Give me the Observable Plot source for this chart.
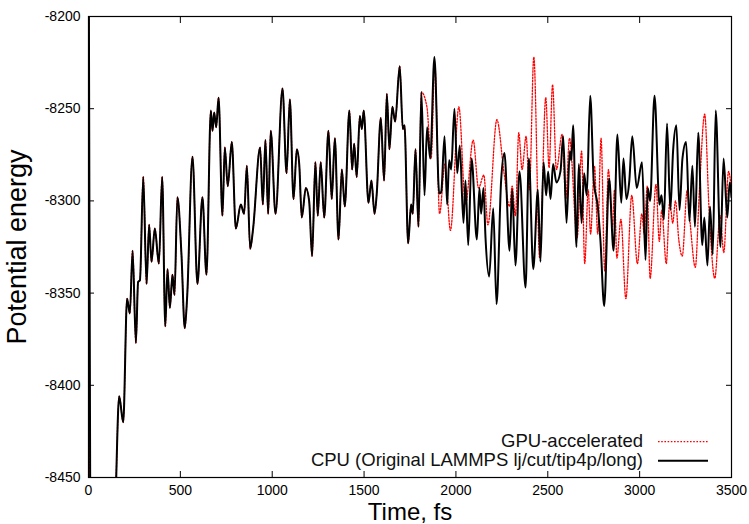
<!DOCTYPE html>
<html><head><meta charset="utf-8">
<script src="https://cdn.jsdelivr.net/npm/d3@7"></script>
<script src="https://cdn.jsdelivr.net/npm/@observablehq/plot@0.6"></script>
<style>
html,body{margin:0;padding:0;background:#fff;}
#wrap{position:relative;width:749px;height:524px;font-family:"Liberation Sans",Arial,sans-serif;}
g[aria-label="y-axis label"]{font-size:27px;}
g[aria-label="x-axis label"]{font-size:24px;}
.lg{position:absolute;right:106px;font-size:18.5px;line-height:20px;color:#111;white-space:nowrap;}
#samples{position:absolute;left:0;top:0;pointer-events:none;}
</style></head>
<body><div id="wrap"></div>
<script>
// Shared trajectory (both runs identical until ~1812 fs)
const commonT = [0,12,80,145,167,189,210,225,240,258,270,280,298,316,330,343,361,383,401,418,430,443,457,468,484,506,524,537,566,593,620,642,666,675,684,695,708,729,742,758,780,802,829,847,862,880,896,934,949,963,978,992,1018,1056,1078,1096,1116,1134,1147,1161,1183,1201,1217,1235,1248,1264,1283,1306,1324,1341,1361,1379,1395,1420,1435,1446,1460,1477,1488,1498,1524,1540,1557,1569,1591,1609,1624,1638,1654,1669,1694,1711,1720,1740,1756,1765,1780,1796,1812];
const commonE = [-8120,-8560,-8600,-8470,-8406,-8420,-8353,-8361,-8327,-8377,-8344,-8343,-8287,-8345,-8313,-8333,-8315,-8334,-8287,-8368,-8337,-8358,-8340,-8351,-8298,-8329,-8369,-8352,-8276,-8345,-8298,-8340,-8251,-8262,-8252,-8260,-8244,-8308,-8271,-8292,-8268,-8315,-8302,-8307,-8281,-8326,-8315,-8271,-8302,-8267,-8307,-8262,-8307,-8239,-8285,-8245,-8299,-8272,-8280,-8309,-8293,-8300,-8330,-8279,-8308,-8279,-8309,-8262,-8299,-8266,-8321,-8283,-8303,-8251,-8283,-8269,-8287,-8254,-8261,-8251,-8301,-8289,-8307,-8296,-8255,-8289,-8242,-8272,-8249,-8257,-8227,-8261,-8259,-8323,-8302,-8307,-8272,-8314,-8241];

// CPU (original LAMMPS) after divergence
const cpuT = [1829,1843,1860,1883,1909,1920,1938,1952,1963,1974,1992,2007,2021,2041,2052,2067,2085,2114,2128,2137,2150,2161,2181,2203,2221,2246,2264,2292,2306,2324,2346,2379,2397,2421,2446,2460,2477,2491,2502,2515,2529,2547,2569,2584,2602,2620,2628,2638,2656,2669,2684,2698,2712,2731,2750,2772,2787,2807,2834,2858,2879,2900,2912,2928,2943,2960,2984,3013,3032,3044,3057,3081,3108,3119,3132,3149,3167,3182,3200,3217,3233,3253,3271,3287,3301,3319,3341,3352,3369,3383,3398,3414,3440,3457,3477,3490,3500];
const cpuE = [-8297,-8260,-8277,-8222,-8296,-8295,-8265,-8302,-8278,-8283,-8250,-8285,-8270,-8312,-8289,-8324,-8277,-8321,-8293,-8307,-8293,-8320,-8341,-8304,-8356,-8289,-8274,-8327,-8294,-8335,-8284,-8347,-8277,-8337,-8294,-8333,-8279,-8297,-8284,-8299,-8280,-8290,-8284,-8265,-8312,-8273,-8278,-8259,-8325,-8280,-8312,-8285,-8297,-8243,-8289,-8303,-8322,-8357,-8288,-8327,-8264,-8301,-8277,-8299,-8290,-8265,-8293,-8279,-8332,-8293,-8300,-8243,-8302,-8297,-8310,-8258,-8305,-8273,-8259,-8305,-8277,-8268,-8311,-8281,-8314,-8263,-8324,-8309,-8335,-8303,-8329,-8251,-8325,-8277,-8309,-8290,-8298];

// GPU-accelerated after divergence
const gpuT = [1842,1865,1885,1911,1940,1970,2016,2052,2094,2123,2152,2174,2223,2262,2292,2306,2324,2342,2360,2382,2400,2424,2456,2489,2507,2526,2547,2578,2598,2618,2660,2684,2701,2720,2733,2754,2772,2790,2810,2830,2852,2863,2876,2898,2925,2957,2988,3012,3025,3041,3057,3089,3107,3120,3145,3164,3180,3195,3213,3232,3259,3275,3303,3325,3354,3378,3409,3438,3458,3484,3500];
const gpuE = [-8249,-8277,-8226,-8307,-8280,-8316,-8249,-8302,-8267,-8293,-8286,-8313,-8256,-8285,-8303,-8292,-8308,-8263,-8283,-8265,-8294,-8222,-8331,-8244,-8282,-8237,-8283,-8264,-8299,-8266,-8320,-8273,-8334,-8294,-8318,-8281,-8318,-8266,-8338,-8283,-8314,-8294,-8331,-8310,-8353,-8297,-8334,-8307,-8318,-8292,-8342,-8291,-8322,-8305,-8334,-8300,-8312,-8300,-8321,-8330,-8294,-8312,-8336,-8295,-8253,-8305,-8342,-8308,-8328,-8284,-8295];

const xTicks = [0,500,1000,1500,2000,2500,3000,3500];
const yTicks = [-8450,-8400,-8350,-8300,-8250,-8200];
const seriesNames = ["GPU-accelerated", "CPU (Original LAMMPS lj/cut/tip4p/long)"];

const common = commonT.map((t,i)=>({t, e: commonE[i]}));
const cpu = common.concat(cpuT.map((t,i)=>({t, e: cpuE[i]})));
const gpu = common.concat(gpuT.map((t,i)=>({t, e: gpuE[i]})));

const chart = Plot.plot({
  width: 749, height: 524,
  marginLeft: 88, marginRight: 18, marginTop: 16, marginBottom: 47,
  style: {fontFamily: '"Liberation Sans", Arial, sans-serif', fontSize: "14px", background: "#fff", color: "#000"},
  x: {domain: [0, 3500]},
  y: {domain: [-8450, -8200]},
  marks: [
    Plot.line(gpu, {x: "t", y: "e", curve: "monotone-x", stroke: "#ff0000", strokeWidth: 1.3, strokeDasharray: "1.6,1.6", clip: true}),
    Plot.line(cpu, {x: "t", y: "e", curve: "monotone-x", stroke: "#000", strokeWidth: 2, clip: true}),
    Plot.frame({stroke: "#000", strokeWidth: 1.2}),
    Plot.axisX({anchor: "bottom", ticks: xTicks, tickSize: -6, tickPadding: 14, tickFormat: d => String(d), fontSize: 14, label: "Time, fs", labelAnchor: "center", labelOffset: 42, labelArrow: "none"}),
    Plot.axisX({anchor: "top", ticks: xTicks, tickSize: -6, tickFormat: () => "", label: null}),
    Plot.axisY({anchor: "left", ticks: yTicks, tickSize: -6, tickPadding: 14, tickFormat: d => String(d), fontSize: 14, label: "Potential energy", labelAnchor: "center", labelOffset: 82, labelArrow: "none"}),
    Plot.axisY({anchor: "right", ticks: yTicks, tickSize: -6, tickFormat: () => "", label: null})
  ]
});
const wrap = document.getElementById("wrap");
wrap.appendChild(chart);

// legend
const l1 = document.createElement("div"); l1.className = "lg"; l1.style.top = "431px"; l1.textContent = seriesNames[0];
const l2 = document.createElement("div"); l2.className = "lg"; l2.style.top = "450px"; l2.textContent = seriesNames[1];
wrap.appendChild(l1); wrap.appendChild(l2);
const ns = "http://www.w3.org/2000/svg";
const s = document.createElementNS(ns, "svg");
s.setAttribute("id", "samples"); s.setAttribute("width", 749); s.setAttribute("height", 524);
[[441.7, "#ff0000", 1.3, "1.6,1.6"], [460.7, "#000", 2, null]].forEach(([y, c, w, da]) => {
  const ln = document.createElementNS(ns, "line");
  ln.setAttribute("x1", 658); ln.setAttribute("x2", 708);
  ln.setAttribute("y1", y); ln.setAttribute("y2", y);
  ln.setAttribute("stroke", c); ln.setAttribute("stroke-width", w);
  if (da) ln.setAttribute("stroke-dasharray", da);
  s.appendChild(ln);
});
wrap.appendChild(s);
</script>
</body></html>
